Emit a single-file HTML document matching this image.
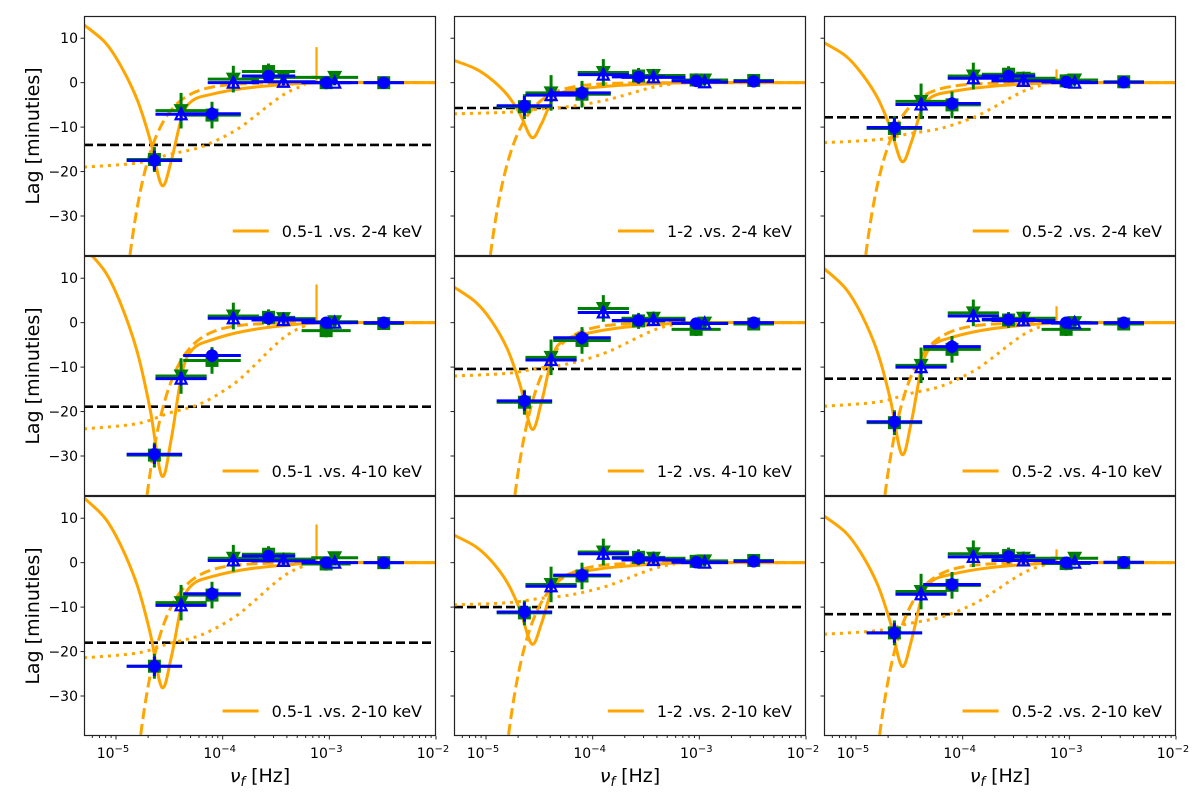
<!DOCTYPE html>
<html><head><meta charset="utf-8"><style>
html,body{margin:0;padding:0;background:#fff;}
svg{display:block;font-family:"DejaVu Sans","Liberation Sans",sans-serif;}
</style></head><body>
<svg id="fig" width="1200" height="800" viewBox="0 0 1200 800" xmlns="http://www.w3.org/2000/svg"></svg>
<script>
// ---- data (panel order: row1 col1..col3, row2..., row3...) ----
const panelLabels = ["0.5-1 .vs. 2-4 keV","1-2 .vs. 2-4 keV","0.5-2 .vs. 2-4 keV","0.5-1 .vs. 4-10 keV","1-2 .vs. 4-10 keV","0.5-2 .vs. 4-10 keV","0.5-1 .vs. 2-10 keV","1-2 .vs. 2-10 keV","0.5-2 .vs. 2-10 keV"];
const circFreqLog = [-4.64,-4.10,-3.57,-3.03,-2.49];
const triFreqLog = [-4.39,-3.90,-3.43,-2.95];
const circXerr = [0.26,0.27,0.25,0.23,0.19];
const triXerr = [0.24,0.24,0.30,0.22];
const circYerrG = [2.8,3.0,1.8,1.5,1.2];
const circYerrB = [2.2,1.5,1.2,0.8,0.6];
const triYerrG = [4.0,3.0,1.5,1.2];
const triYerrB = [1.5,1.2,0.8,0.6];
const blueCircles = [[-17.5,-7,1.5,0,0],[-5.2,-2.3,1.3,0.4,0.3],[-10.1,-4.7,1.5,0.15,0.1],[-29.6,-7.4,1,0,0],[-17.6,-3.4,0.5,-0.2,0],[-22.3,-5.4,0.7,0,0],[-23.3,-7,1.5,0,0],[-11.1,-2.8,1,0.1,0.3],[-15.8,-4.9,1.4,0,0.1]];
const greenSquares = [[-17.3,-7.3,2.5,0,0],[-5.4,-2.6,1.5,0.6,0.5],[-10.3,-5,1.9,0.4,0.2],[-29.8,-8.5,1.2,-1.8,-0.2],[-17.9,-4,0.4,-1.5,-0.3],[-22.5,-6,0.6,-1.5,-0.3],[-23.3,-7.3,1.9,-0.3,0],[-11.3,-3,1.2,0.3,0.5],[-15.8,-5.1,1.6,-0.2,0]];
const blueTriUp = [[-7.1,0,0.2,0],[-2.8,1.8,1.2,0.1],[-4.9,1,0.4,0],[-12.6,1,0.6,0],[-8.4,2.3,0.6,-0.2],[-10,1.5,0.5,-0.1],[-9.6,0.5,0.4,0],[-5.3,2,0.6,0],[-7.1,1.3,0.5,0]];
const greenTriDown = [[-6.3,0.8,1.2,1.2],[-2.3,2.3,1.6,0.6],[-4.2,1.5,1,0.6],[-12,1.5,0.9,0.2],[-7.8,3.2,1,-0.1],[-9.6,2.2,1,0],[-9,1,0.8,1.1],[-4.9,2.4,1,0.4],[-6.5,2,1,1]];
const dashLevel = [-14,-5.7,-7.8,-18.9,-10.4,-12.6,-18,-10,-11.6];
const solidStart = [13,5,9,17,8,12.2,14.6,6.2,10.5];
const solidMin = [-23.5,-12.5,-18,-35,-24.2,-30,-28.5,-18.5,-23.6];
const dashedBottomLog = [-4.87,-4.96,-4.91,-4.71,-4.73,-4.73,-4.77,-4.79,-4.78];
const dottedStart = [-19,-7,-13.5,-23.9,-12,-18.8,-21.4,-9.5,-16.1];
const spikeTop = [8,0,3,8.6,0,3.7,8.6,0,3];
// model curve shape templates
const solidX = [-5.3,-5.1,-4.95,-4.8,-4.68,-4.57,-4.48,-4.38,-4.28,-4.1,-3.8,-3.4,-3.0,-2.0];
const solidU = [1,0.85,0.6,0.35,0.15,0.03,0,0,0,0,0,0,0,0];
const solidV = [0,0.087,0.18,0.36,0.63,1.0,0.74,0.32,0.17,0.11,0.055,0.017,0,0];
const dottedX = [-5.3,-4.8,-4.5,-4.2,-3.9,-3.7,-3.55,-3.4,-3.25,-3.1,-2.0];
const dottedFrac = [1,0.95,0.85,0.76,0.58,0.4,0.25,0.12,0.04,0,0];
const yTicks = [10,0,-10,-20,-30];
const xTickExp = [-5,-4,-3,-2];

// ---- layout ----
const colX = [84,454,824], rowY = [16,256,496], PW = 352, PH = 240;
const XMIN = -5.3, XMAX = -2.0, YMIN = -39, YMAX = 15;
const NS = "http://www.w3.org/2000/svg";
const svg = document.getElementById('fig');
function mk(tag, attrs, parent){const e=document.createElementNS(NS,tag);for(const k in attrs)e.setAttribute(k,attrs[k]);(parent||svg).appendChild(e);return e;}
const ORANGE="#ffa500", GREEN="#008000", BLUE="#0000ff";
const LW=3;

function catmull(pts){
  let d="M"+pts[0][0].toFixed(2)+","+pts[0][1].toFixed(2);
  for(let i=0;i<pts.length-1;i++){
    const p0=pts[Math.max(0,i-1)],p1=pts[i],p2=pts[i+1],p3=pts[Math.min(pts.length-1,i+2)];
    const c1=[p1[0]+(p2[0]-p0[0])/6,p1[1]+(p2[1]-p0[1])/6];
    const c2=[p2[0]-(p3[0]-p1[0])/6,p2[1]-(p3[1]-p1[1])/6];
    d+=" C"+c1[0].toFixed(2)+","+c1[1].toFixed(2)+" "+c2[0].toFixed(2)+","+c2[1].toFixed(2)+" "+p2[0].toFixed(2)+","+p2[1].toFixed(2);
  }
  return d;
}

for(let p=0;p<9;p++){
  const r=Math.floor(p/3), c=p%3, x0=colX[c], y0=rowY[r];
  const sx=v=>x0+(v-XMIN)/(XMAX-XMIN)*PW;
  const sy=v=>y0+(YMAX-v)/(YMAX-YMIN)*PH;
  const g=mk('g',{});
  
  
  const cp=mk('clipPath',{id:'cl'+p},g);
  mk('rect',{x:x0,y:y0,width:PW,height:PH},cp);
  const pg=mk('g',{'clip-path':'url(#cl'+p+')'},g);

  const hl=mk('line',{x1:x0,x2:x0+PW,y1:sy(dashLevel[p]),y2:sy(dashLevel[p]),stroke:'#000','stroke-width':2.6,'stroke-dasharray':'9,4'},pg);
  
  

  const dpts=dottedX.map((x,i)=>[sx(x),sy(dottedStart[p]*dottedFrac[i])]);
  const dp=mk('path',{d:catmull(dpts),fill:'none',stroke:ORANGE,'stroke-width':LW,'stroke-dasharray':'3,5'},pg);
  
  

  const dsh=[];
  for(let x=dashedBottomLog[p]-0.05;x<=XMAX;x+=0.03){dsh.push([sx(x),sy(-39*Math.exp(-(x-dashedBottomLog[p])/0.21))]);}
  const dsp=mk('path',{d:catmull(dsh),fill:'none',stroke:ORANGE,'stroke-width':LW,'stroke-dasharray':'11,5'},pg);
  
  

  const spts=solidX.map((x,i)=>[sx(x),sy(solidStart[p]*solidU[i]+solidMin[p]*solidV[i])]);
  const sp=mk('path',{d:catmull(spts),fill:'none',stroke:ORANGE,'stroke-width':LW},pg);
  
  
  if(spikeTop[p]>0){
    const sk=mk('line',{x1:sx(-3.12),x2:sx(-3.12),y1:sy(0),y2:sy(spikeTop[p]),stroke:ORANGE,'stroke-width':2.2},pg);
    
    
  }

  function ebar(xl,yv,xe,ye,col){
    mk('line',{x1:sx(xl-xe),x2:sx(xl+xe),y1:sy(yv),y2:sy(yv),stroke:col,'stroke-width':3},pg);
    mk('line',{x1:sx(xl),x2:sx(xl),y1:sy(yv-ye),y2:sy(yv+ye),stroke:col,'stroke-width':3},pg);
  }
  circFreqLog.forEach((x,i)=>ebar(x,greenSquares[p][i],circXerr[i],circYerrG[i],GREEN));
  triFreqLog.forEach((x,i)=>ebar(x,greenTriDown[p][i],triXerr[i],triYerrG[i],GREEN));
  circFreqLog.forEach((x,i)=>{
    const m=mk('rect',{x:sx(x)-6.5,y:sy(greenSquares[p][i])-6.5,width:13,height:13,fill:GREEN},pg);
    
    
  });
  triFreqLog.forEach((x,i)=>{
    const X=sx(x),Y=sy(greenTriDown[p][i]);
    const m=mk('polygon',{points:(X-7.5)+","+(Y-6.5)+" "+(X+7.5)+","+(Y-6.5)+" "+X+","+(Y+7.5),fill:GREEN},pg);
    
    
  });
  circFreqLog.forEach((x,i)=>ebar(x,blueCircles[p][i],circXerr[i],circYerrB[i],BLUE));
  triFreqLog.forEach((x,i)=>ebar(x,blueTriUp[p][i],triXerr[i],triYerrB[i],BLUE));
  circFreqLog.forEach((x,i)=>{
    const m=mk('circle',{cx:sx(x),cy:sy(blueCircles[p][i]),r:6.2,fill:BLUE},pg);
    
    
  });
  triFreqLog.forEach((x,i)=>{
    const X=sx(x),Y=sy(blueTriUp[p][i]);
    const m=mk('polygon',{points:(X-5.5)+","+(Y+5)+" "+(X+5.5)+","+(Y+5)+" "+X+","+(Y-6),fill:'none',stroke:BLUE,'stroke-width':2.2},pg);
    
    
  });

  const fr=mk('rect',{x:x0+0.5,y:y0+0.5,width:PW-1,height:PH-1,fill:'none',stroke:'#222','stroke-width':1.2},g);
  
  

  yTicks.forEach(v=>{
    mk('line',{x1:x0-3.5,x2:x0,y1:sy(v),y2:sy(v),stroke:'#222','stroke-width':1},g);
    if(c===0){
      const t=mk('text',{x:x0-6,y:sy(v)+5,'text-anchor':'end','font-size':14,fill:'#000'},g);
      t.textContent=(v<0?'\u2212'+(-v):''+v);
      
      
    }
  });
  if(r===2){
    for(let e=-6;e<=-2;e++){
      for(let m=1;m<=9;m++){
        const lx=e+Math.log10(m);
        if(lx<XMIN-1e-9||lx>XMAX+1e-9)continue;
        mk('line',{x1:sx(lx),x2:sx(lx),y1:y0+PH,y2:y0+PH+(m===1?3.5:2),stroke:'#222','stroke-width':1},g);
      }
    }
    xTickExp.forEach(e=>{
      const t=mk('text',{x:sx(e)-3,y:y0+PH+22,'text-anchor':'middle','font-size':14,fill:'#000'},g);
      
      
      const a=mk('tspan',{},t);a.textContent='10';
      const b=mk('tspan',{dy:-6,'font-size':10},t);b.textContent='\u2212'+(-e);
    });
    const xl=mk('text',{x:x0+PW/2,y:782,'text-anchor':'middle','font-size':19,fill:'#000'},g);
    
    
    const n1=mk('tspan',{'font-style':'italic'},xl);n1.textContent='\u03bd';
    const n2=mk('tspan',{'font-style':'italic',dy:4,'font-size':13},xl);n2.textContent='f';
    const n3=mk('tspan',{dy:-4},xl);n3.textContent=' [Hz]';
  }
  if(c===0){
    const cy=y0+PH/2;
    const yl=mk('text',{x:0,y:0,transform:'translate(39,'+cy+') rotate(-90)','text-anchor':'middle','font-size':19,fill:'#000'},g);
    yl.textContent='Lag [minuties]';
    
    
  }
  const lg=mk('g',{},g);
  
  
  const lt=mk('text',{x:x0+PW-14,y:y0+221,'text-anchor':'end','font-size':16,fill:'#000'},lg);
  lt.textContent=panelLabels[p];
  const tw=lt.getComputedTextLength();
  const lxr=x0+PW-14-tw-13;
  mk('line',{x1:lxr-36,x2:lxr,y1:y0+215,y2:y0+215,stroke:ORANGE,'stroke-width':LW},lg);
}
</script>
</body></html>
